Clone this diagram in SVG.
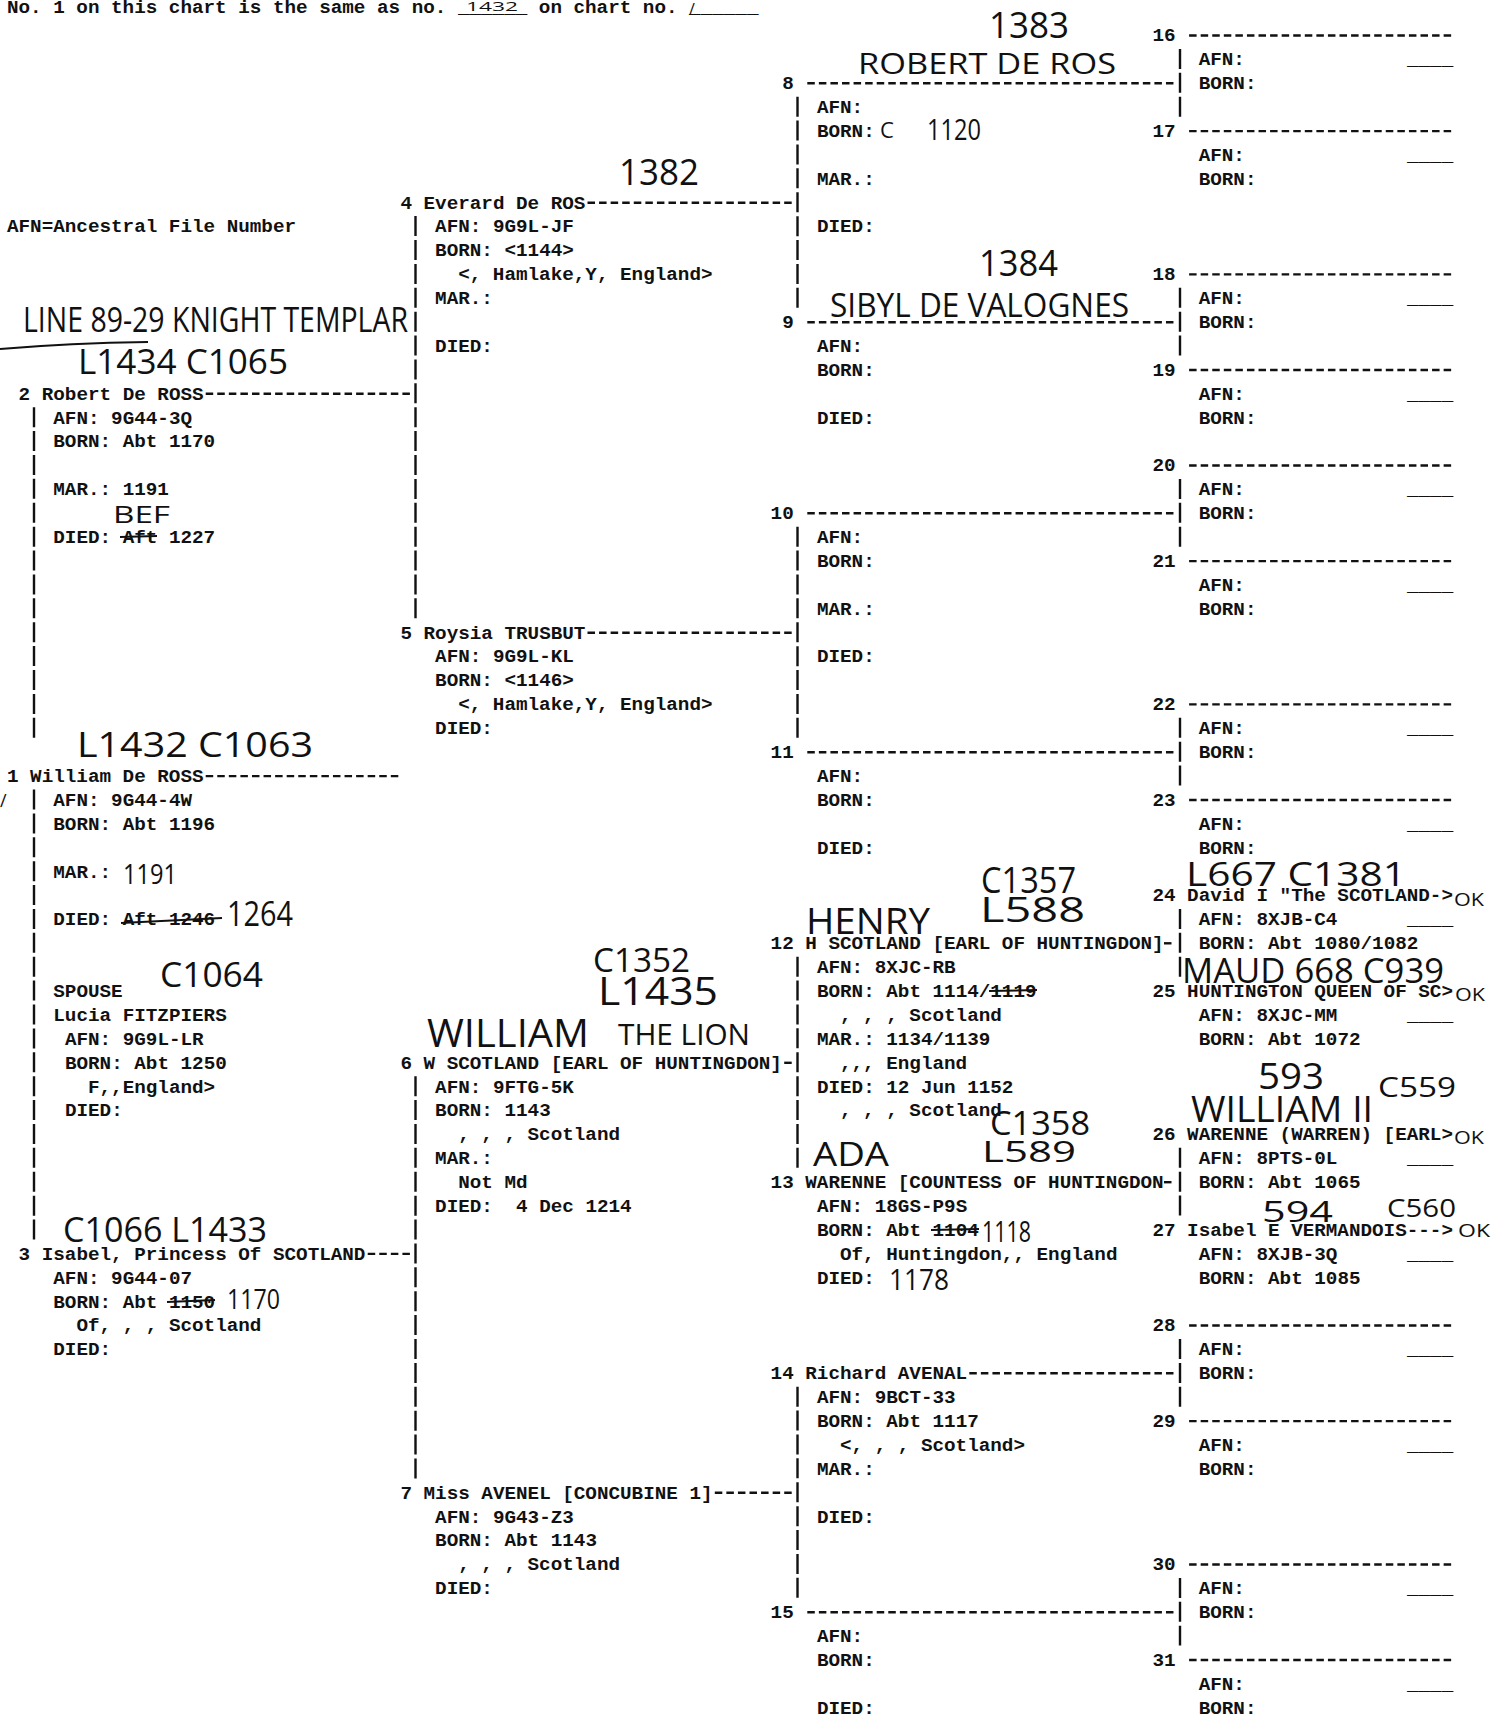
<svg xmlns="http://www.w3.org/2000/svg" width="1494" height="1719" viewBox="0 0 1494 1719" xml:space="preserve">
<style>
.t{font-family:"Liberation Mono","Courier New",monospace;font-weight:bold;font-size:19.28px;fill:#111;white-space:pre}
.h{font-family:"Open Sans","DejaVu Sans",sans-serif;font-weight:400;fill:#111}
.d{stroke:#111;stroke-width:2.4;stroke-dasharray:7.5 4.07;fill:none}
.b{stroke:#111;stroke-width:2.4;stroke-dasharray:20 3.89;fill:none}
.s{stroke:#111;stroke-width:2;fill:none}
</style>
<rect width="1494" height="1719" fill="#fff"/>
<g id="header">
<text class="t" x="7" y="13">No. 1 on this chart is the same as no. ______ on chart no. ______</text>
</g>
<g id="legend"><text class="t" x="7" y="232.4">AFN=Ancestral File Number</text></g>

<g id="connectors">
<line class="d" x1="205.7" y1="393.8" x2="409.9" y2="393.8"/>
<line class="d" x1="205.7" y1="776.1" x2="398.3" y2="776.1"/>
<line class="d" x1="367.7" y1="1253.9" x2="409.9" y2="1253.9"/>
<line class="d" x1="587.5" y1="202.7" x2="791.7" y2="202.7"/>
<line class="d" x1="587.5" y1="632.7" x2="791.7" y2="632.7"/>
<line class="d" x1="784.2" y1="1062.8" x2="791.7" y2="1062.8"/>
<line class="d" x1="714.8" y1="1492.8" x2="791.7" y2="1492.8"/>
<line class="d" x1="807.3" y1="83.3" x2="1173.5" y2="83.3"/>
<line class="d" x1="807.3" y1="322.2" x2="1173.5" y2="322.2"/>
<line class="d" x1="807.3" y1="513.3" x2="1173.5" y2="513.3"/>
<line class="d" x1="807.3" y1="752.2" x2="1173.5" y2="752.2"/>
<line class="d" x1="1164" y1="943.3" x2="1173.5" y2="943.3"/>
<line class="d" x1="1164" y1="1182.2" x2="1173.5" y2="1182.2"/>
<line class="d" x1="969.3" y1="1373.3" x2="1173.5" y2="1373.3"/>
<line class="d" x1="807.3" y1="1612.2" x2="1173.5" y2="1612.2"/>
<line class="d" x1="1189.1" y1="35.5" x2="1451.2" y2="35.5"/>
<line class="d" x1="1189.1" y1="131.1" x2="1451.2" y2="131.1"/>
<line class="d" x1="1189.1" y1="274.4" x2="1451.2" y2="274.4"/>
<line class="d" x1="1189.1" y1="370" x2="1451.2" y2="370"/>
<line class="d" x1="1189.1" y1="465.5" x2="1451.2" y2="465.5"/>
<line class="d" x1="1189.1" y1="561.1" x2="1451.2" y2="561.1"/>
<line class="d" x1="1189.1" y1="704.4" x2="1451.2" y2="704.4"/>
<line class="d" x1="1189.1" y1="800" x2="1451.2" y2="800"/>
<line class="d" x1="1189.1" y1="1325.5" x2="1451.2" y2="1325.5"/>
<line class="d" x1="1189.1" y1="1421.1" x2="1451.2" y2="1421.1"/>
<line class="d" x1="1189.1" y1="1564.5" x2="1451.2" y2="1564.5"/>
<line class="d" x1="1189.1" y1="1660" x2="1451.2" y2="1660"/>
<line class="b" x1="34" y1="407.2" x2="34" y2="737.8"/>
<line class="b" x1="34" y1="789.5" x2="34" y2="1239.5"/>
<line class="b" x1="415.5" y1="216.1" x2="415.5" y2="618.4"/>
<line class="b" x1="415.5" y1="1076.2" x2="415.5" y2="1478.4"/>
<line class="b" x1="797.5" y1="96.7" x2="797.5" y2="307.8"/>
<line class="b" x1="797.5" y1="526.7" x2="797.5" y2="737.8"/>
<line class="b" x1="797.5" y1="956.7" x2="797.5" y2="1167.8"/>
<line class="b" x1="797.5" y1="1386.7" x2="797.5" y2="1597.9"/>
<line class="b" x1="1180" y1="48.9" x2="1180" y2="116.7"/>
<line class="b" x1="1180" y1="287.8" x2="1180" y2="355.6"/>
<line class="b" x1="1180" y1="478.9" x2="1180" y2="546.7"/>
<line class="b" x1="1180" y1="717.8" x2="1180" y2="785.6"/>
<line class="b" x1="1180" y1="908.9" x2="1180" y2="976.7"/>
<line class="b" x1="1180" y1="1147.8" x2="1180" y2="1215.6"/>
<line class="b" x1="1180" y1="1339" x2="1180" y2="1406.7"/>
<line class="b" x1="1180" y1="1577.9" x2="1180" y2="1645.6"/>
</g>

<g id="p1">
<text class="t" x="7" y="781.9">1 William De ROSS</text>
<text class="t" x="53.3" y="805.8">AFN: 9G44-4W</text>
<text class="t" x="53.3" y="829.7">BORN: Abt 1196</text>
<text class="t" x="53.3" y="877.5">MAR.:</text>
<text class="t" x="53.3" y="925.2">DIED: Aft 1246</text>
<line class="s" x1="121" y1="923" x2="222" y2="918"/>
<text class="t" x="53.3" y="996.9">SPOUSE</text>
<text class="t" x="53.3" y="1020.8">Lucia FITZPIERS</text>
<text class="t" x="64.9" y="1044.7">AFN: 9G9L-LR</text>
<text class="t" x="64.9" y="1068.6">BORN: Abt 1250</text>
<text class="t" x="88" y="1092.5">F,,England&gt;</text>
<text class="t" x="64.9" y="1116.4">DIED:</text>
</g>
<g id="p2">
<text class="t" x="18.6" y="399.7">2 Robert De ROSS</text>
<text class="t" x="53.3" y="423.5">AFN: 9G44-3Q</text>
<text class="t" x="53.3" y="447.4">BORN: Abt 1170</text>
<text class="t" x="53.3" y="495.2">MAR.: 1191</text>
<text class="t" x="53.3" y="543">DIED: Aft 1227</text>
<line class="s" x1="120" y1="537" x2="157" y2="536"/>
</g>
<g id="p3">
<text class="t" x="18.6" y="1259.7">3 Isabel, Princess Of SCOTLAND</text>
<text class="t" x="53.3" y="1283.6">AFN: 9G44-07</text>
<text class="t" x="53.3" y="1307.5">BORN: Abt 1150</text>
<line class="s" x1="167" y1="1302" x2="215" y2="1300"/>
<text class="t" x="76.4" y="1331.4">Of, , , Scotland</text>
<text class="t" x="53.3" y="1355.3">DIED:</text>
</g>
<g id="p4">
<text class="t" x="400.4" y="208.5">4 Everard De ROS</text>
<text class="t" x="435.1" y="232.4">AFN: 9G9L-JF</text>
<text class="t" x="435.1" y="256.3">BORN: &lt;1144&gt;</text>
<text class="t" x="458.2" y="280.2">&lt;, Hamlake,Y, England&gt;</text>
<text class="t" x="435.1" y="304.1">MAR.:</text>
<text class="t" x="435.1" y="351.9">DIED:</text>
</g>
<g id="p5">
<text class="t" x="400.4" y="638.6">5 Roysia TRUSBUT</text>
<text class="t" x="435.1" y="662.4">AFN: 9G9L-KL</text>
<text class="t" x="435.1" y="686.3">BORN: &lt;1146&gt;</text>
<text class="t" x="458.2" y="710.2">&lt;, Hamlake,Y, England&gt;</text>
<text class="t" x="435.1" y="734.1">DIED:</text>
</g>
<g id="p6">
<text class="t" x="400.4" y="1068.6">6 W SCOTLAND [EARL OF HUNTINGDON]</text>
<text class="t" x="435.1" y="1092.5">AFN: 9FTG-5K</text>
<text class="t" x="435.1" y="1116.4">BORN: 1143</text>
<text class="t" x="458.2" y="1140.2">, , , Scotland</text>
<text class="t" x="435.1" y="1164.1">MAR.:</text>
<text class="t" x="458.2" y="1188">Not Md</text>
<text class="t" x="435.1" y="1211.9">DIED:  4 Dec 1214</text>
</g>
<g id="p7">
<text class="t" x="400.4" y="1498.6">7 Miss AVENEL [CONCUBINE 1]</text>
<text class="t" x="435.1" y="1522.5">AFN: 9G43-Z3</text>
<text class="t" x="435.1" y="1546.4">BORN: Abt 1143</text>
<text class="t" x="458.2" y="1570.3">, , , Scotland</text>
<text class="t" x="435.1" y="1594.2">DIED:</text>
</g>
<g id="p8">
<text class="t" x="782.2" y="89.1">8</text>
<text class="t" x="816.9" y="113">AFN:</text>
<text class="t" x="816.9" y="136.9">BORN:</text>
<text class="t" x="816.9" y="184.6">MAR.:</text>
<text class="t" x="816.9" y="232.4">DIED:</text>
</g>
<g id="p9">
<text class="t" x="782.2" y="328">9</text>
<text class="t" x="816.9" y="351.9">AFN:</text>
<text class="t" x="816.9" y="375.8">BORN:</text>
<text class="t" x="816.9" y="423.5">DIED:</text>
</g>
<g id="p10">
<text class="t" x="770.6" y="519.1">10</text>
<text class="t" x="816.9" y="543">AFN:</text>
<text class="t" x="816.9" y="566.9">BORN:</text>
<text class="t" x="816.9" y="614.7">MAR.:</text>
<text class="t" x="816.9" y="662.4">DIED:</text>
</g>
<g id="p11">
<text class="t" x="770.6" y="758">11</text>
<text class="t" x="816.9" y="781.9">AFN:</text>
<text class="t" x="816.9" y="805.8">BORN:</text>
<text class="t" x="816.9" y="853.6">DIED:</text>
</g>
<g id="p12">
<text class="t" x="770.6" y="949.1">12 H SCOTLAND [EARL OF HUNTINGDON]</text>
<text class="t" x="816.9" y="973">AFN: 8XJC-RB</text>
<text class="t" x="816.9" y="996.9">BORN: Abt 1114/1119</text>
<line class="s" x1="989" y1="991" x2="1037" y2="990"/>
<text class="t" x="840" y="1020.8">, , , Scotland</text>
<text class="t" x="816.9" y="1044.7">MAR.: 1134/1139</text>
<text class="t" x="840" y="1068.6">,,, England</text>
<text class="t" x="816.9" y="1092.5">DIED: 12 Jun 1152</text>
<text class="t" x="840" y="1116.4">, , , Scotland</text>
</g>
<g id="p13">
<text class="t" x="770.6" y="1188">13 WARENNE [COUNTESS OF HUNTINGDON</text>
<text class="t" x="816.9" y="1211.9">AFN: 18GS-P9S</text>
<text class="t" x="816.9" y="1235.8">BORN: Abt 1104</text>
<line class="s" x1="931" y1="1230" x2="979" y2="1229"/>
<text class="t" x="840" y="1259.7">Of, Huntingdon,, England</text>
<text class="t" x="816.9" y="1283.6">DIED:</text>
</g>
<g id="p14">
<text class="t" x="770.6" y="1379.1">14 Richard AVENAL</text>
<text class="t" x="816.9" y="1403">AFN: 9BCT-33</text>
<text class="t" x="816.9" y="1426.9">BORN: Abt 1117</text>
<text class="t" x="840" y="1450.8">&lt;, , , Scotland&gt;</text>
<text class="t" x="816.9" y="1474.7">MAR.:</text>
<text class="t" x="816.9" y="1522.5">DIED:</text>
</g>
<g id="p15">
<text class="t" x="770.6" y="1618">15</text>
<text class="t" x="816.9" y="1641.9">AFN:</text>
<text class="t" x="816.9" y="1665.8">BORN:</text>
<text class="t" x="816.9" y="1713.6">DIED:</text>
</g>
<g id="p16"><text class="t" x="1152.4" y="41.3">16</text><text class="t" x="1198.7" y="65.2">AFN:</text><text class="t" x="1407" y="65.2">____</text><text class="t" x="1198.7" y="89.1">BORN:</text></g>
<g id="p17"><text class="t" x="1152.4" y="136.9">17</text><text class="t" x="1198.7" y="160.8">AFN:</text><text class="t" x="1407" y="160.8">____</text><text class="t" x="1198.7" y="184.6">BORN:</text></g>
<g id="p18"><text class="t" x="1152.4" y="280.2">18</text><text class="t" x="1198.7" y="304.1">AFN:</text><text class="t" x="1407" y="304.1">____</text><text class="t" x="1198.7" y="328">BORN:</text></g>
<g id="p19"><text class="t" x="1152.4" y="375.8">19</text><text class="t" x="1198.7" y="399.7">AFN:</text><text class="t" x="1407" y="399.7">____</text><text class="t" x="1198.7" y="423.5">BORN:</text></g>
<g id="p20"><text class="t" x="1152.4" y="471.3">20</text><text class="t" x="1198.7" y="495.2">AFN:</text><text class="t" x="1407" y="495.2">____</text><text class="t" x="1198.7" y="519.1">BORN:</text></g>
<g id="p21"><text class="t" x="1152.4" y="566.9">21</text><text class="t" x="1198.7" y="590.8">AFN:</text><text class="t" x="1407" y="590.8">____</text><text class="t" x="1198.7" y="614.7">BORN:</text></g>
<g id="p22"><text class="t" x="1152.4" y="710.2">22</text><text class="t" x="1198.7" y="734.1">AFN:</text><text class="t" x="1407" y="734.1">____</text><text class="t" x="1198.7" y="758">BORN:</text></g>
<g id="p23"><text class="t" x="1152.4" y="805.8">23</text><text class="t" x="1198.7" y="829.7">AFN:</text><text class="t" x="1407" y="829.7">____</text><text class="t" x="1198.7" y="853.6">BORN:</text></g>
<g id="p24"><text class="t" x="1152.4" y="901.3">24 David I "The SCOTLAND-&gt;</text><text class="t" x="1198.7" y="925.2">AFN: 8XJB-C4</text><text class="t" x="1407" y="925.2">____</text><text class="t" x="1198.7" y="949.1">BORN: Abt 1080/1082</text></g>
<g id="p25"><text class="t" x="1152.4" y="996.9">25 HUNTINGTON QUEEN OF SC&gt;</text><text class="t" x="1198.7" y="1020.8">AFN: 8XJC-MM</text><text class="t" x="1407" y="1020.8">____</text><text class="t" x="1198.7" y="1044.7">BORN: Abt 1072</text></g>
<g id="p26"><text class="t" x="1152.4" y="1140.2">26 WARENNE (WARREN) [EARL&gt;</text><text class="t" x="1198.7" y="1164.1">AFN: 8PTS-0L</text><text class="t" x="1407" y="1164.1">____</text><text class="t" x="1198.7" y="1188">BORN: Abt 1065</text></g>
<g id="p27"><text class="t" x="1152.4" y="1235.8">27 Isabel E VERMANDOIS---&gt;</text><text class="t" x="1198.7" y="1259.7">AFN: 8XJB-3Q</text><text class="t" x="1407" y="1259.7">____</text><text class="t" x="1198.7" y="1283.6">BORN: Abt 1085</text></g>
<g id="p28"><text class="t" x="1152.4" y="1331.4">28</text><text class="t" x="1198.7" y="1355.3">AFN:</text><text class="t" x="1407" y="1355.3">____</text><text class="t" x="1198.7" y="1379.1">BORN:</text></g>
<g id="p29"><text class="t" x="1152.4" y="1426.9">29</text><text class="t" x="1198.7" y="1450.8">AFN:</text><text class="t" x="1407" y="1450.8">____</text><text class="t" x="1198.7" y="1474.7">BORN:</text></g>
<g id="p30"><text class="t" x="1152.4" y="1570.3">30</text><text class="t" x="1198.7" y="1594.2">AFN:</text><text class="t" x="1407" y="1594.2">____</text><text class="t" x="1198.7" y="1618">BORN:</text></g>
<g id="p31"><text class="t" x="1152.4" y="1665.8">31</text><text class="t" x="1198.7" y="1689.7">AFN:</text><text class="t" x="1407" y="1689.7">____</text><text class="t" x="1198.7" y="1713.6">BORN:</text></g>

<g id="notes">
<text class="h" x="466" y="11" font-size="13" textLength="52" lengthAdjust="spacingAndGlyphs">1432</text>
<text class="h" x="689" y="15" font-size="16">/</text>
<text class="h" x="989" y="38" font-size="36" textLength="80" lengthAdjust="spacingAndGlyphs">1383</text>
<text class="h" x="858" y="74" font-size="30" textLength="258" lengthAdjust="spacingAndGlyphs">ROBERT DE ROS</text>
<text class="h" x="880" y="138" font-size="22">C</text>
<text class="h" x="927" y="140" font-size="30" textLength="54" lengthAdjust="spacingAndGlyphs">1120</text>
<text class="h" x="619" y="185" font-size="36" textLength="80" lengthAdjust="spacingAndGlyphs">1382</text>
<text class="h" x="979" y="276" font-size="36" textLength="79" lengthAdjust="spacingAndGlyphs">1384</text>
<text class="h" x="830" y="317" font-size="32" textLength="299" lengthAdjust="spacingAndGlyphs">SIBYL DE VALOGNES</text>
<text class="h" x="23" y="332" font-size="34" textLength="385" lengthAdjust="spacingAndGlyphs">LINE 89-29 KNIGHT TEMPLAR</text>
<path class="s" d="M0 349 Q70 343 148 342"/>
<text class="h" x="78" y="374" font-size="34" textLength="210" lengthAdjust="spacingAndGlyphs">L1434 C1065</text>
<text class="h" x="113" y="523" font-size="24" textLength="57" lengthAdjust="spacingAndGlyphs">BEF</text>
<text class="h" x="77" y="757" font-size="34" textLength="236" lengthAdjust="spacingAndGlyphs">L1432 C1063</text>
<text class="h" x="0" y="807" font-size="18">/</text>
<text class="h" x="123" y="884" font-size="28" textLength="54" lengthAdjust="spacingAndGlyphs">1191</text>
<text class="h" x="227" y="926" font-size="34" textLength="66" lengthAdjust="spacingAndGlyphs">1264</text>
<text class="h" x="160" y="987" font-size="34" textLength="103" lengthAdjust="spacingAndGlyphs">C1064</text>
<text class="h" x="593" y="972" font-size="32" textLength="97" lengthAdjust="spacingAndGlyphs">C1352</text>
<text class="h" x="598" y="1005" font-size="38" textLength="120" lengthAdjust="spacingAndGlyphs">L1435</text>
<text class="h" x="427" y="1047" font-size="38" textLength="162" lengthAdjust="spacingAndGlyphs">WILLIAM</text>
<text class="h" x="618" y="1045" font-size="30" textLength="132" lengthAdjust="spacingAndGlyphs">THE LION</text>
<text class="h" x="806" y="934" font-size="36" textLength="124" lengthAdjust="spacingAndGlyphs">HENRY</text>
<text class="h" x="981" y="893" font-size="36" textLength="95" lengthAdjust="spacingAndGlyphs">C1357</text>
<text class="h" x="980" y="922" font-size="34" textLength="105" lengthAdjust="spacingAndGlyphs">L588</text>
<text class="h" x="1186" y="886" font-size="32" textLength="220" lengthAdjust="spacingAndGlyphs">L667 C1381</text>
<text class="h" x="1182" y="983" font-size="34" textLength="262" lengthAdjust="spacingAndGlyphs">MAUD 668 C939</text>
<text class="h" x="1454" y="906" font-size="18" textLength="30" lengthAdjust="spacingAndGlyphs">OK</text>
<text class="h" x="1455" y="1001" font-size="18" textLength="30" lengthAdjust="spacingAndGlyphs">OK</text>
<text class="h" x="1454" y="1144" font-size="18" textLength="30" lengthAdjust="spacingAndGlyphs">OK</text>
<text class="h" x="1458" y="1237" font-size="18" textLength="32" lengthAdjust="spacingAndGlyphs">OK</text>
<text class="h" x="1258" y="1089" font-size="36" textLength="66" lengthAdjust="spacingAndGlyphs">593</text>
<text class="h" x="1378" y="1097" font-size="28" textLength="78" lengthAdjust="spacingAndGlyphs">C559</text>
<text class="h" x="1191" y="1122" font-size="36" textLength="182" lengthAdjust="spacingAndGlyphs">WILLIAM II</text>
<text class="h" x="990" y="1135" font-size="32" textLength="100" lengthAdjust="spacingAndGlyphs">C1358</text>
<text class="h" x="813" y="1166" font-size="32" textLength="76" lengthAdjust="spacingAndGlyphs">ADA</text>
<text class="h" x="982" y="1162" font-size="30" textLength="94" lengthAdjust="spacingAndGlyphs">L589</text>
<text class="h" x="1262" y="1222" font-size="30" textLength="71" lengthAdjust="spacingAndGlyphs">594</text>
<text class="h" x="1387" y="1217" font-size="26" textLength="69" lengthAdjust="spacingAndGlyphs">C560</text>
<text class="h" x="982" y="1242" font-size="30" textLength="49" lengthAdjust="spacingAndGlyphs">1118</text>
<text class="h" x="889" y="1290" font-size="30" textLength="60" lengthAdjust="spacingAndGlyphs">1178</text>
<text class="h" x="63" y="1242" font-size="34" textLength="204" lengthAdjust="spacingAndGlyphs">C1066 L1433</text>
<text class="h" x="227" y="1309" font-size="28" textLength="53" lengthAdjust="spacingAndGlyphs">1170</text>
</g>
</svg>
